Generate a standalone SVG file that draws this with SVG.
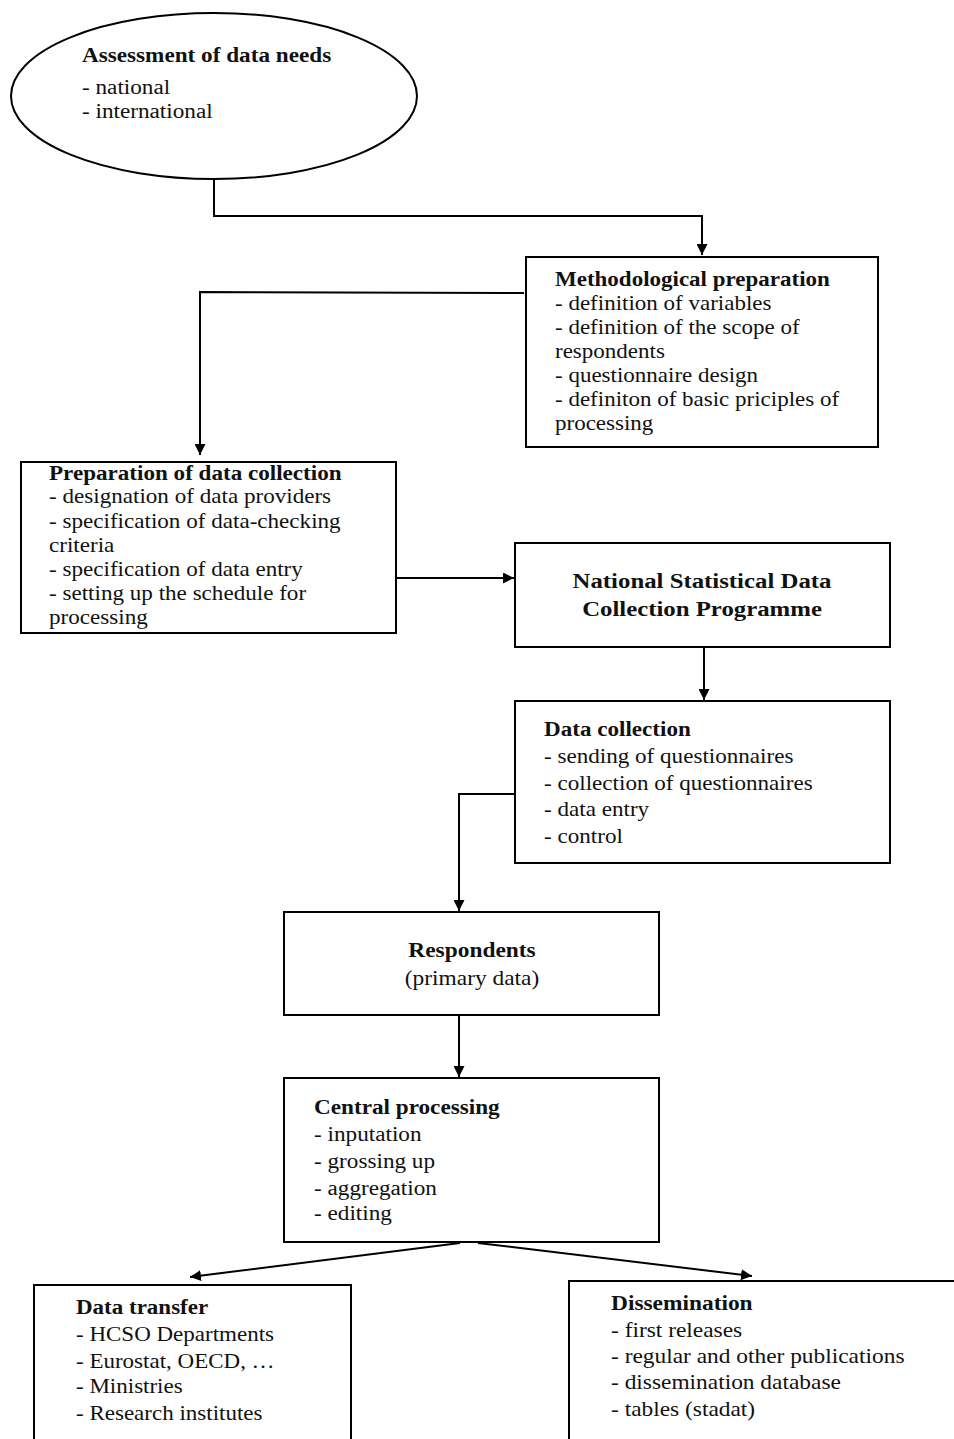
<svg xmlns="http://www.w3.org/2000/svg" width="954" height="1439" viewBox="0 0 954 1439">
<style>
.box{fill:#fff;stroke:#000;stroke-width:2}
.t{font-family:"Liberation Serif","Times New Roman",serif;font-size:20px;fill:#111}
.b{font-weight:bold}
.c{fill:none;stroke:#000;stroke-width:2}
</style>
<defs>
<marker id="ah" viewBox="0 0 10 10" refX="10" refY="5" markerWidth="11" markerHeight="11" markerUnits="userSpaceOnUse" orient="auto">
<path d="M0,0 L10,5 L0,10 z" fill="#000"/>
</marker>
</defs>
<rect width="954" height="1439" fill="#fff"/>
<g id="connectors">
<polyline class="c" points="214,180 214,216 702,216 702,255" marker-end="url(#ah)"/>
<polyline class="c" points="524,293 200,292 200,455" marker-end="url(#ah)"/>
<line class="c" x1="396" y1="578" x2="514" y2="578" marker-end="url(#ah)"/>
<line class="c" x1="704" y1="647" x2="704" y2="700" marker-end="url(#ah)"/>
<polyline class="c" points="515,794 459,794 459,911" marker-end="url(#ah)"/>
<line class="c" x1="459" y1="1015" x2="459" y2="1077" marker-end="url(#ah)"/>
<line class="c" x1="460" y1="1243" x2="190" y2="1277" marker-end="url(#ah)"/>
<line class="c" x1="478" y1="1243" x2="752" y2="1276" marker-end="url(#ah)"/>
</g>
<g id="assessment">
<ellipse class="box" cx="214" cy="96" rx="203" ry="83"/>
<g transform="translate(82,0) scale(1.16,1)">
<text class="t b" x="0" y="62">Assessment of data needs</text>
<text class="t" x="0" y="94">- national</text>
<text class="t" x="0" y="118">- international</text>
</g>
</g>
<g id="methodological">
<rect class="box" x="526" y="257" width="352" height="190"/>
<g transform="translate(555,0) scale(1.15,1)">
<text class="t b" x="0" y="286">Methodological preparation</text>
<text class="t" x="0" y="310">- definition of variables</text>
<text class="t" x="0" y="334">- definition of the scope of</text>
<text class="t" x="0" y="358">respondents</text>
<text class="t" x="0" y="382">- questionnaire design</text>
<text class="t" x="0" y="406">- definiton of basic priciples of</text>
<text class="t" x="0" y="430">processing</text>
</g>
</g>
<g id="preparation">
<rect class="box" x="21" y="462" width="375" height="171"/>
<g transform="translate(49,0) scale(1.155,1)">
<text class="t b" x="0" y="480">Preparation of data collection</text>
<text class="t" x="0" y="503">- designation of data providers</text>
<text class="t" x="0" y="528">- specification of data-checking</text>
<text class="t" x="0" y="552">criteria</text>
<text class="t" x="0" y="576">- specification of data entry</text>
<text class="t" x="0" y="600">- setting up the schedule for</text>
<text class="t" x="0" y="624">processing</text>
</g>
</g>
<g id="programme">
<rect class="box" x="515" y="543" width="375" height="104"/>
<g transform="translate(702,0) scale(1.24,1)">
<text class="t b" x="0" y="588" text-anchor="middle" font-size="22">National Statistical Data</text>
<text class="t b" x="0" y="616" text-anchor="middle" font-size="22">Collection Programme</text>
</g>
</g>
<g id="datacollection">
<rect class="box" x="515" y="701" width="375" height="162"/>
<g transform="translate(544,0) scale(1.155,1)">
<text class="t b" x="0" y="736">Data collection</text>
<text class="t" x="0" y="763">- sending of questionnaires</text>
<text class="t" x="0" y="790">- collection of questionnaires</text>
<text class="t" x="0" y="816">- data entry</text>
<text class="t" x="0" y="843">- control</text>
</g>
</g>
<g id="respondents">
<rect class="box" x="284" y="912" width="375" height="103"/>
<g transform="translate(472,0) scale(1.17,1)">
<text class="t b" x="0" y="957" text-anchor="middle">Respondents</text>
<text class="t" x="0" y="985" text-anchor="middle">(primary data)</text>
</g>
</g>
<g id="central">
<rect class="box" x="284" y="1078" width="375" height="164"/>
<g transform="translate(314,0) scale(1.16,1)">
<text class="t b" x="0" y="1114">Central processing</text>
<text class="t" x="0" y="1141">- inputation</text>
<text class="t" x="0" y="1168">- grossing up</text>
<text class="t" x="0" y="1195">- aggregation</text>
<text class="t" x="0" y="1220">- editing</text>
</g>
</g>
<g id="datatransfer">
<rect class="box" x="34" y="1285" width="317" height="170"/>
<g transform="translate(76,0) scale(1.15,1)">
<text class="t b" x="0" y="1314">Data transfer</text>
<text class="t" x="0" y="1341">- HCSO Departments</text>
<text class="t" x="0" y="1368">- Eurostat, OECD, …</text>
<text class="t" x="0" y="1393">- Ministries</text>
<text class="t" x="0" y="1420">- Research institutes</text>
</g>
</g>
<g id="dissemination">
<rect class="box" x="569" y="1281" width="400" height="180"/>
<g transform="translate(611,0) scale(1.17,1)">
<text class="t b" x="0" y="1310">Dissemination</text>
<text class="t" x="0" y="1337">- first releases</text>
<text class="t" x="0" y="1363">- regular and other  publications</text>
<text class="t" x="0" y="1389">- dissemination database</text>
<text class="t" x="0" y="1416">- tables (stadat)</text>
</g>
</g>
</svg>
